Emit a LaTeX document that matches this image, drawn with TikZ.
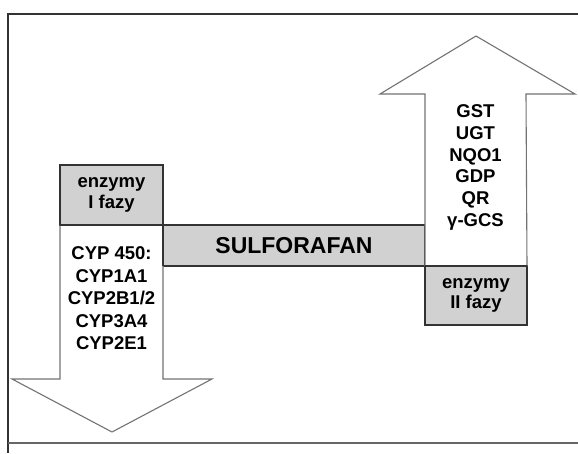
\documentclass[tikz,border=0pt]{standalone}
\usepackage{fontspec}
\setmainfont{Liberation Sans}
\usetikzlibrary{positioning}

\begin{document}
\begin{tikzpicture}[
  x=1pt, y=-1pt,
  gbox/.style={draw=black!80, line width=1.3pt, fill=black!18, outer sep=0pt, inner sep=0pt,
    minimum width=103pt, minimum height=60pt, align=center,
    font=\fontsize{18.5}{20.5}\selectfont\bfseries},
  bar/.style={draw=black!80, line width=1.3pt, fill=black!18, outer sep=0pt, inner sep=0pt,
    minimum width=262pt, minimum height=41pt, font=\fontsize{23}{25}\selectfont\bfseries},
  arrowshape/.style={draw=black!55, line width=1.1pt, fill=white, line join=miter},
  list/.style={align=center, inner sep=0pt, font=\fontsize{18.5}{22.5}\selectfont\bfseries},
  frame/.style={draw=black!80, line width=1.1pt},
]
\useasboundingbox (0,0) rectangle (578,453);

% frame
\draw[frame] (578,14) -- (8,14) -- (8,453);
\draw[frame, draw=black!60, line width=1.4pt] (8,443) -- (578,443);

% phase I box and middle bar
\node[gbox] (faza1) at (111.5,195) {enzymy\\I fazy};
\node[bar, anchor=north west] (sulf) at (faza1.south east) {SULFORAFAN};
\node[gbox, minimum width=102pt, minimum height=59pt, anchor=north west] (faza2) at (sulf.south east) {enzymy\\II fazy};

% arrows down / up
\draw[arrowshape] (faza1.south west) -- (60,379) -- (12,379) -- (112,432) -- (212,379) -- (163,379) -- (faza1.south east);
\draw[arrowshape] (faza2.north west) -- (425,94) -- (380,94) -- (476,36) -- (575,94) -- (526,94) -- (faza2.north east);
% box edges over arrow outlines
\draw[draw=black!80, line width=1.3pt] (faza1.south west) -- (faza1.south east);
\draw[draw=black!80, line width=1.3pt] (faza2.north west) -- (faza2.north east);
\draw[draw=black!80, line width=1.3pt] (sulf.north west) -- (sulf.south west);

% enzyme lists
\node[list] (cyp) at (111.5,298.5) {CYP 450:\\CYP1A1\\CYP2B1/2\\CYP3A4\\CYP2E1};
\node[list, font=\fontsize{18.5}{21.8}\selectfont\bfseries] (gst) at (475.5,167.5) {GST\\UGT\\NQO1\\GDP\\QR\\γ-GCS};

\end{tikzpicture}
\end{document}
